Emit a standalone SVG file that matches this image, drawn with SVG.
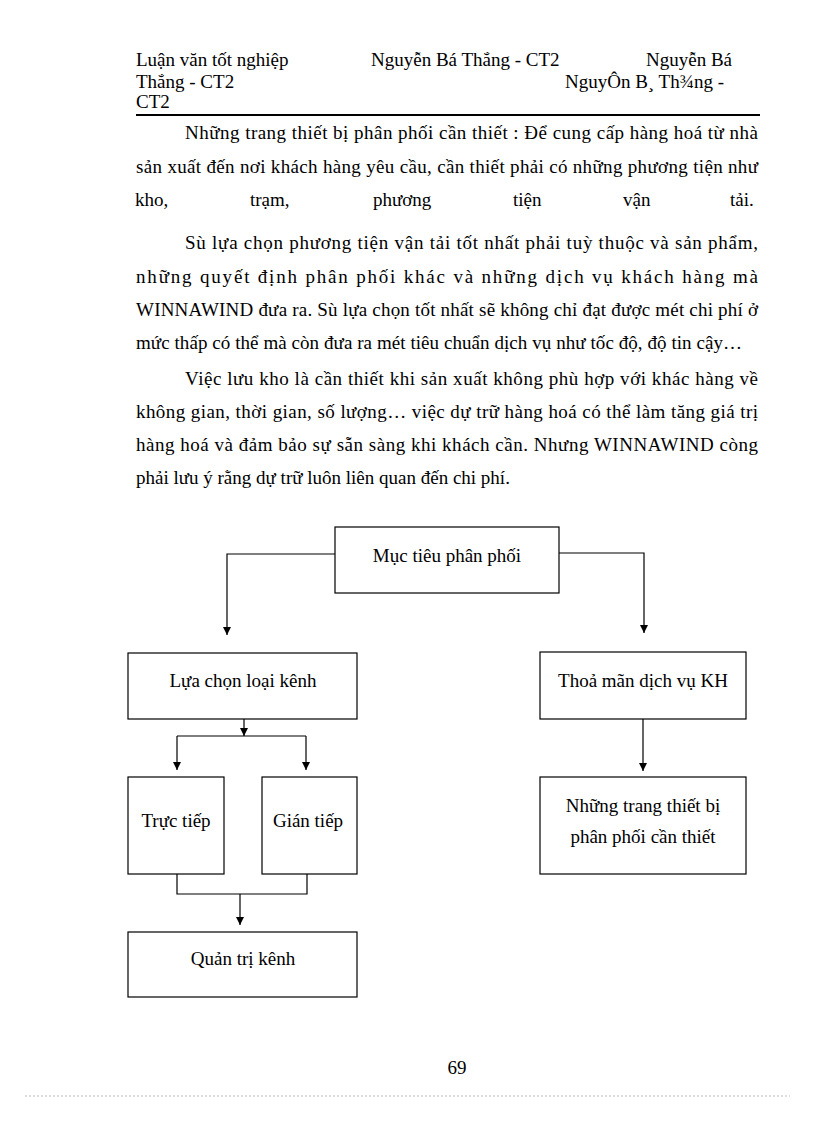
<svg xmlns="http://www.w3.org/2000/svg" width="816" height="1123" viewBox="0 0 816 1123">
<defs>
<style>
text{font-family:"Liberation Serif","Times New Roman",serif;font-size:19px;fill:#000}
.c{text-anchor:middle}
.box{fill:#fff;stroke:#000;stroke-width:1.2}
.ln{fill:none;stroke:#000;stroke-width:1.2}
</style>
<marker id="ah" markerUnits="userSpaceOnUse" markerWidth="8" markerHeight="8" refX="8" refY="4" orient="auto">
<path d="M0,0 L8,4 L0,8 z" fill="#000"/>
</marker>
</defs>
<rect width="816" height="1123" fill="#fff"/>
<g id="header">
<text x="136" y="66">Luận văn tốt nghiệp</text>
<text x="371" y="66">Nguyễn Bá Thắng - CT2</text>
<text x="646" y="66">Nguyễn Bá</text>
<text x="136" y="88">Thắng - CT2</text>
<text x="565" y="88">NguyÔn B¸ Th¾ng -</text>
<text x="136" y="108">CT2</text>
<line x1="136" y1="115" x2="760" y2="115" stroke="#000" stroke-width="2.2"/>
</g>
<g id="body">
<text x="185" y="139" textLength="573" lengthAdjust="spacing">Những trang thiết bị phân phối cần thiết : Để cung cấp hàng hoá từ nhà</text>
<text x="136" y="173" textLength="622" lengthAdjust="spacing">sản xuất đến nơi khách hàng yêu cầu, cần thiết phải có những phương tiện như</text>
<text x="135" y="206">kho,</text>
<text x="250" y="206">trạm,</text>
<text x="373" y="206">phương</text>
<text x="513" y="206">tiện</text>
<text x="623" y="206">vận</text>
<text x="730" y="206">tải.</text>
<text x="185" y="249" textLength="573" lengthAdjust="spacing">Sù lựa chọn phương tiện vận tải tốt nhất phải tuỳ thuộc và sản phẩm,</text>
<text x="136" y="283" textLength="622" lengthAdjust="spacing">những quyết định phân phối khác và những dịch vụ khách hàng mà</text>
<text x="136" y="316" textLength="622" lengthAdjust="spacing">WINNAWIND đưa ra. Sù lựa chọn tốt nhất sẽ không chỉ đạt được mét chi phí ở</text>
<text x="136" y="349" textLength="606" lengthAdjust="spacing">mức thấp có thể mà còn đưa ra mét tiêu chuẩn dịch vụ như tốc độ, độ tin cậy…</text>
<text x="185" y="385" textLength="573" lengthAdjust="spacing">Việc lưu kho là cần thiết khi sản xuất không phù hợp với khác hàng về</text>
<text x="136" y="418" textLength="622" lengthAdjust="spacing">không gian, thời gian, số lượng… việc dự trữ hàng hoá có thể làm tăng giá trị</text>
<text x="136" y="451" textLength="622" lengthAdjust="spacing">hàng hoá và đảm bảo sự sẵn sàng khi khách cần. Nhưng WINNAWIND còng</text>
<text x="136" y="484">phải lưu ý rằng dự trữ luôn liên quan đến chi phí.</text>
</g>
<g id="connectors">
<path class="ln" d="M335,554 H227 V635" marker-end="url(#ah)"/>
<path class="ln" d="M559,553 H644 V633" marker-end="url(#ah)"/>
<path class="ln" d="M244,719 V736" marker-end="url(#ah)"/>
<path class="ln" d="M177,736 H306"/>
<path class="ln" d="M177,736 V770" marker-end="url(#ah)"/>
<path class="ln" d="M306,736 V770" marker-end="url(#ah)"/>
<path class="ln" d="M177,874 V894 H307 V874"/>
<path class="ln" d="M240,894 V925" marker-end="url(#ah)"/>
<path class="ln" d="M643,719 V771" marker-end="url(#ah)"/>
</g>
<g id="muc-tieu">
<rect class="box" x="335" y="527" width="224" height="66"/>
<text class="c" x="447" y="562">Mục tiêu phân phối</text>
</g>
<g id="lua-chon">
<rect class="box" x="128" y="653" width="229" height="66"/>
<text class="c" x="243" y="687">Lựa chọn loại kênh</text>
</g>
<g id="thoa-man">
<rect class="box" x="540" y="652" width="206" height="67"/>
<text class="c" x="643" y="687">Thoả mãn dịch vụ KH</text>
</g>
<g id="truc-tiep">
<rect class="box" x="128" y="777" width="96" height="97"/>
<text class="c" x="176" y="827">Trực tiếp</text>
</g>
<g id="gian-tiep">
<rect class="box" x="262" y="777" width="95" height="97"/>
<text class="c" x="308" y="827">Gián tiếp</text>
</g>
<g id="quan-tri">
<rect class="box" x="128" y="932" width="229" height="65"/>
<text class="c" x="243" y="965">Quản trị kênh</text>
</g>
<g id="trang-thiet-bi">
<rect class="box" x="540" y="777" width="206" height="97"/>
<text class="c" x="643" y="812">Những trang thiết bị</text>
<text class="c" x="643" y="843">phân phối cần thiết</text>
</g>
<g id="footer">
<text class="c" x="457" y="1074">69</text>
<line x1="25" y1="1096" x2="790" y2="1096" stroke="#bbb" stroke-width="1" stroke-dasharray="2,2"/>
</g>
</svg>
